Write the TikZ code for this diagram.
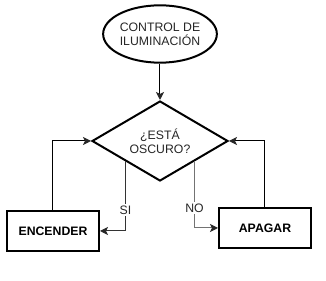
\documentclass[tikz,border=0pt]{standalone}
\usepackage{fontspec}
\setmainfont{Liberation Sans}
\usetikzlibrary{positioning, shapes.geometric, arrows.meta}

\begin{document}
\begin{tikzpicture}[x=0.75pt, y=-0.75pt, font=\fontsize{9.2}{10.5}\selectfont,
	inicio/.style={ellipse, draw, line width=1.5pt, minimum width=75pt, minimum height=43pt, inner sep=0pt, align=center, text=black!85},
	decision/.style={diamond, draw, line width=1.5pt, minimum width=102pt, minimum height=60pt, inner sep=0pt, aspect=1.7, align=center, text=black!85},
	accion/.style={rectangle, draw, line width=1.5pt, minimum width=69pt, minimum height=30pt, font=\fontsize{9.2}{10.5}\selectfont\bfseries},
	flecha/.style={-{Stealth[length=6pt, width=6pt, inset=1.5pt, color=black!85]}, line width=0.75pt},
	etiqueta/.style={fill=white, inner sep=1pt, text=black!85}]
	\useasboundingbox (0,0) rectangle (326,281);

	\node[inicio]   (ctrl)     at (160,34)  {CONTROL DE\\ILUMINACIÓN};
	\node[decision] (oscuro)   at (160,141) {¿ESTÁ\\OSCURO?};
	\node[accion]   (encender) at (53,231)  {ENCENDER};
	\node[accion]   (apagar)   at (265,228) {APAGAR};

	\draw[flecha] (ctrl) -- (oscuro);
	\draw[flecha, black!80] (oscuro.south west) |- (encender.east)
		node[etiqueta, pos=0.35] {SI};
	\draw[flecha, black!55] (oscuro.south east) |- (apagar.west)
		node[etiqueta, pos=0.35] {NO};
	\draw[flecha] (encender.north) |- (oscuro.west);
	\draw[flecha] (apagar.north) |- (oscuro.east);
\end{tikzpicture}
\end{document}
